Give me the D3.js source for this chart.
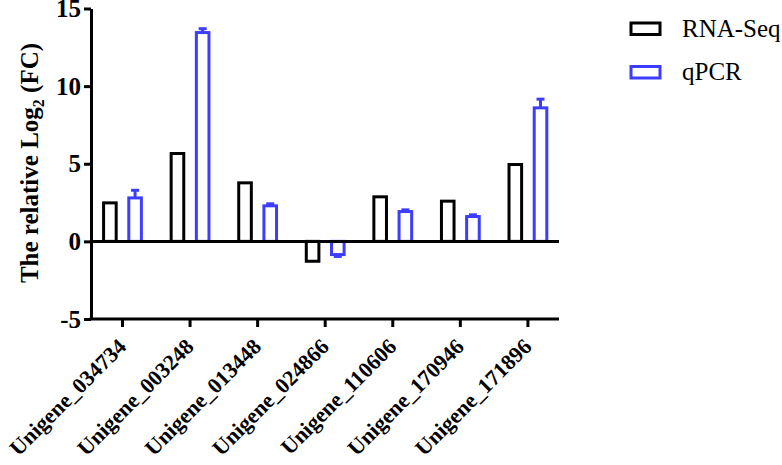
<!DOCTYPE html>
<html>
<head>
<meta charset="utf-8">
<script src="https://cdnjs.cloudflare.com/ajax/libs/d3/7.8.5/d3.min.js"></script>
<style>
  body { margin: 0; background: #fff; }
  svg { display: block; font-family: "Liberation Serif", "Times New Roman", serif; }
</style>
</head>
<body>
<svg width="782" height="465"></svg>
<script>
var genes = ["Unigene_034734", "Unigene_003248", "Unigene_013448", "Unigene_024866",
             "Unigene_110606", "Unigene_170946", "Unigene_171896"];
var rnaSeq = [2.48, 5.66, 3.77, -1.28, 2.87, 2.59, 4.95];
var qpcr = [2.80, 13.45, 2.29, -0.85, 1.92, 1.60, 8.60];
var qpcrErr = [0.49, 0.25, 0.13, 0.12, 0.11, 0.11, 0.56];
var yTicks = [-5, 0, 5, 10, 15];
var seriesNames = ["RNA-Seq", "qPCR"];
var colors = ["#000000", "#3d3dff"];

var svg = d3.select("svg");

var x = d3.scaleBand().domain(genes).range([88.7, 561.7]);
var y = d3.scaleLinear().domain([-5, 15]).range([319, 8.5]);

var barW = 12.6, off = 12.6, sw = 3;

// bars
var series = [rnaSeq, qpcr];
series.forEach(function(vals, s){
  var dx = s === 0 ? -off : off;
  svg.append("g").selectAll("rect")
    .data(vals)
    .enter().append("rect")
    .attr("x", function(d, i){ return x(genes[i]) + x.bandwidth()/2 + dx - barW/2; })
    .attr("y", function(d){ return y(Math.max(0, d)); })
    .attr("width", barW)
    .attr("height", function(d){ return Math.abs(y(d) - y(0)); })
    .attr("fill", "none")
    .attr("stroke", colors[s])
    .attr("stroke-width", sw);
});

// error bars for qPCR (one sided, away from zero)
var eg = svg.append("g").attr("stroke", colors[1]).attr("stroke-width", sw);
qpcr.forEach(function(d, i){
  var cx = x(genes[i]) + x.bandwidth()/2 + off;
  var tip = d >= 0 ? d + qpcrErr[i] : d - qpcrErr[i];
  eg.append("line").attr("x1", cx).attr("x2", cx).attr("y1", y(d)).attr("y2", y(tip));
  eg.append("line").attr("x1", cx - 4).attr("x2", cx + 4).attr("y1", y(tip)).attr("y2", y(tip));
});

// zero line
svg.append("line")
  .attr("x1", 91).attr("x2", 559)
  .attr("y1", y(0)).attr("y2", y(0))
  .attr("stroke", "#000").attr("stroke-width", sw);

// y axis
var yAxis = svg.append("g")
  .attr("transform", "translate(91,0)")
  .call(d3.axisLeft(y).tickValues(yTicks).tickFormat(function(d){ return String(d); })
    .tickSize(7).tickSizeOuter(0).tickPadding(3));
yAxis.select(".domain").attr("stroke-width", sw);
yAxis.selectAll(".tick line").attr("stroke-width", sw);
yAxis.selectAll("text")
  .attr("font-family", "Liberation Serif, serif")
  .attr("font-weight", "bold")
  .attr("font-size", 25)
  .attr("fill", "#000");

// x axis
var xAxis = svg.append("g")
  .attr("transform", "translate(0,319)")
  .call(d3.axisBottom(x).tickSize(8).tickSizeOuter(0));
xAxis.select(".domain").attr("d", "M89.5,0H559").attr("stroke-width", sw);
xAxis.selectAll(".tick line").attr("stroke-width", sw);
xAxis.selectAll("text")
  .attr("font-family", "Liberation Serif, serif")
  .attr("font-weight", "bold")
  .attr("font-size", 22)
  .attr("fill", "#000")
  .attr("text-anchor", "end")
  .attr("dy", null)
  .attr("y", 0)
  .attr("transform", "translate(5,29) rotate(-45)");

// y title
svg.append("text")
  .attr("transform", "translate(38,163) rotate(-90)")
  .attr("text-anchor", "middle")
  .attr("font-weight", "bold")
  .attr("font-size", 25)
  .call(function(t){
    t.append("tspan").text("The relative Log");
    t.append("tspan").attr("font-size", 16).attr("dy", 6).text("2");
    t.append("tspan").attr("dy", -6).text(" (FC)");
  });

// legend
var lg = svg.append("g").selectAll("g")
  .data(seriesNames)
  .enter().append("g")
  .attr("transform", function(d, i){ return "translate(631," + (23 + i * 43.5) + ")"; });
lg.append("rect")
  .attr("width", 29).attr("height", 11.5)
  .attr("fill", "none")
  .attr("stroke", function(d, i){ return colors[i]; })
  .attr("stroke-width", sw);
lg.append("text")
  .attr("x", 51).attr("y", 13.5)
  .attr("font-size", 25)
  .text(function(d){ return d; });
</script>
</body>
</html>
